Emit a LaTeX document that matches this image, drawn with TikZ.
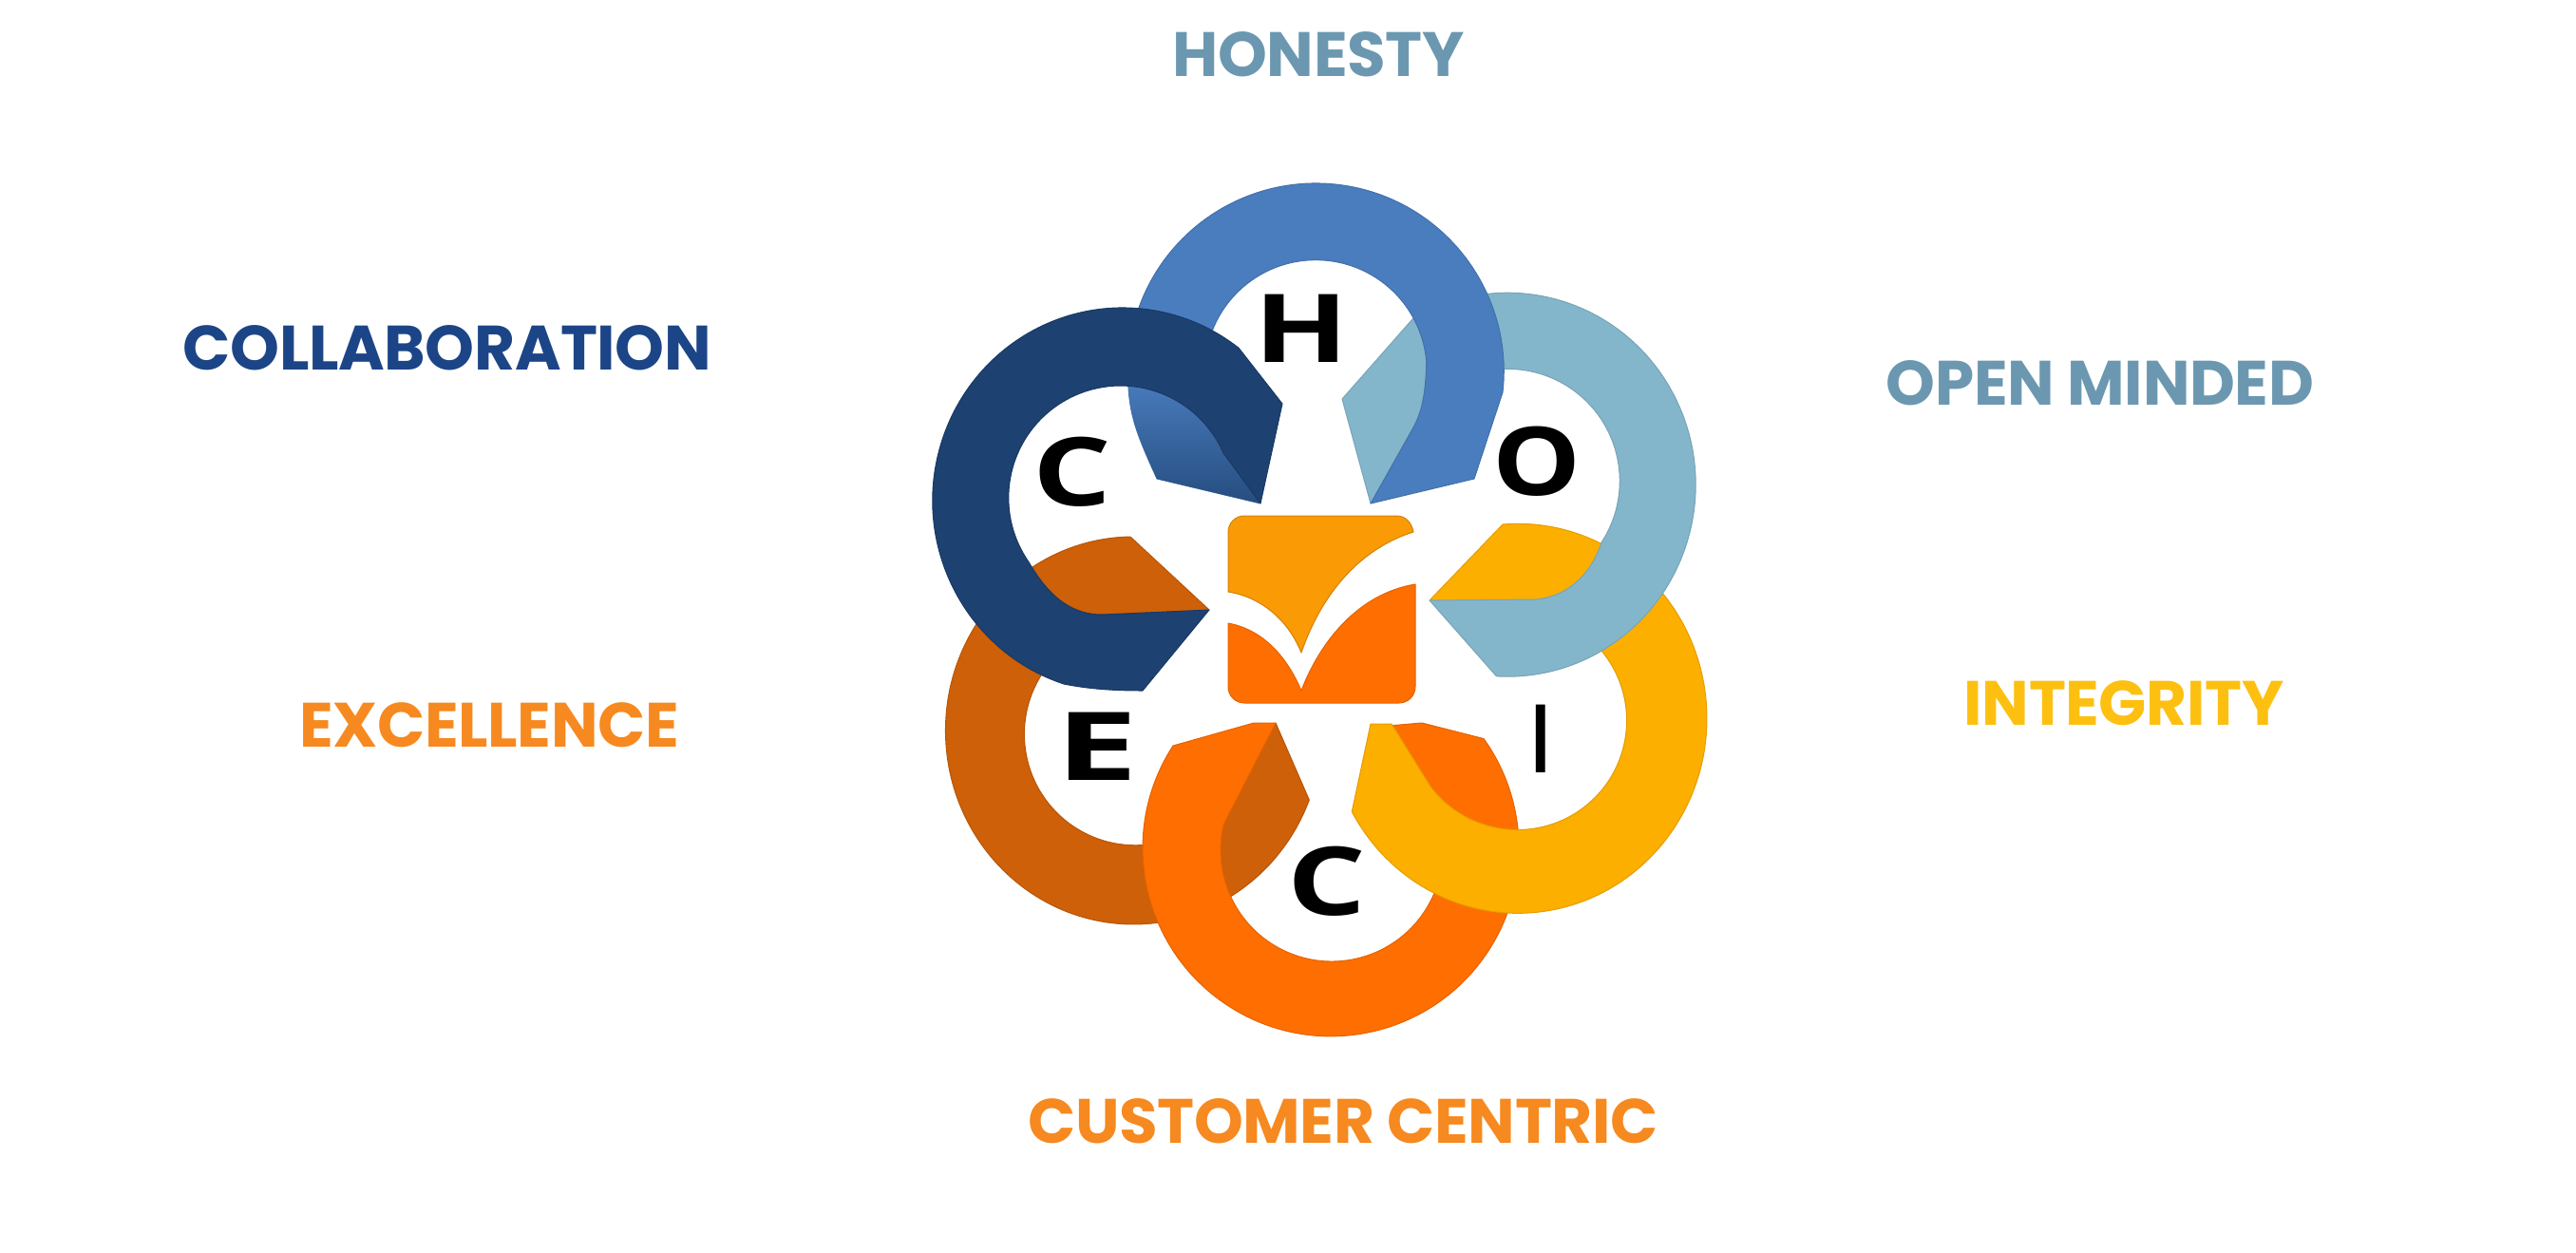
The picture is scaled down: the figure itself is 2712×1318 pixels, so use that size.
\documentclass[tikz,border=0pt]{standalone}
\usepackage{fontspec}
\usepackage{graphicx}
\usepackage{xcolor}
\usepackage{tikz}
\usetikzlibrary{positioning}
\newfontfamily\valuefont{Poppins}[LetterSpace=-0.6]
\newfontfamily\letterfont{Open Sans}
\definecolor{ringC}{HTML}{1D4170}
\definecolor{ringH}{HTML}{4A7DBE}
\definecolor{ringO}{HTML}{84B6CB}
\definecolor{ringI}{HTML}{FDAF00}
\definecolor{ringCc}{HTML}{FF6E00}
\definecolor{ringE}{HTML}{CD6008}
\definecolor{iconTop}{HTML}{FA9A05}
\definecolor{textC}{HTML}{1C4587}
\definecolor{textO}{HTML}{6B98B0}
\definecolor{textE}{HTML}{F6891F}
\definecolor{textI}{HTML}{FDC010}
\tikzset{
  valuelabel/.style={inner sep=0pt,font=\fontsize{66}{70}\selectfont\valuefont\bfseries},
  ringletter/.style={inner sep=0pt,text=black,font=\fontsize{100}{104}\selectfont\letterfont\bfseries},
  ringpart/.style={line join=round,line width=1pt}
}
\begin{document}
\begin{tikzpicture}[x=1pt,y=1pt,yscale=-1]
  \useasboundingbox (0,0) rectangle (2712,1318);
  % rings, lowest first
  \filldraw[ringpart,fill=ringE,draw=ringE!90!black] (1273,642) -- (1190,565) arc[start angle=-91,end angle=-339,x radius=198,y radius=204] -- (1343,761) -- (1285,848) arc[start angle=40,end angle=260,radius=117] -- cycle;
  \filldraw[ringpart,fill=ringCc,draw=ringCc!90!black] (1343,761) -- (1320,761) -- (1235,785) arc[start angle=-147,end angle=-395.6,radius=198] -- (1497,761) -- (1450,765) -- (1450,850) -- (1512,855) arc[start angle=-20,end angle=193.7,radius=117] -- cycle;
  \filldraw[ringpart,fill=ringI,draw=ringI!90!black] (1505,632) -- (1582,552) arc[start angle=-94.6,end angle=151.4,x radius=199,y radius=205] -- (1443,762) -- (1465,762) -- (1506,828) arc[start angle=142.8,end angle=-80,radius=115] -- cycle;
  \filldraw[ringpart,fill=ringO,draw=ringO!90!black] (1443,530) -- (1413,420) -- (1487,336) arc[start angle=-120.4,end angle=93.4,x radius=198,y radius=202] -- (1505,632) -- (1617,631) .. controls (1650,628) and (1675,605) .. (1686,571) arc[start angle=33.2,end angle=-110,radius=118] -- (1500,500) -- cycle;
  \filldraw[ringpart,fill=ringH,draw=ringH!90!black] (1552,504) -- (1582,413) arc[start angle=6.4,end angle=-185,radius=198] .. controls (1190,440) and (1198,460) .. (1218,504) -- (1327,530) -- (1270,411) arc[start angle=-190,end angle=-5,radius=117] .. controls (1501,418) and (1496,435) .. (1488,450) -- (1443,530) -- cycle;
  \shade[top color=ringH,bottom color=ringC!80!ringH] (1187,395) -- (1188,408) .. controls (1190,440) and (1198,460) .. (1218,504) -- (1327,530) -- (1270,411) -- (1200,395) -- cycle;
  \filldraw[ringpart,fill=ringC,draw=ringC!90!black] (1350,425) -- (1327,530) -- (1288,477) arc[start angle=-23.5,end angle=-215,radius=118] .. controls (1105,630) and (1130,647) .. (1160,647) -- (1273,642) -- (1203,727) .. controls (1170,727) and (1145,725) .. (1120,720) arc[start angle=108,end angle=307.7,x radius=200,y radius=203] -- cycle;
  % centre mark
  \filldraw[ringpart,fill=iconTop,draw=iconTop!85!black] (1293,623) -- (1293,560) arc[start angle=180,end angle=270,radius=17] -- (1470,543) .. controls (1480,543) and (1486,550) .. (1488,560) .. controls (1440,575) and (1395,615) .. (1370,687) .. controls (1355,650) and (1325,628) .. (1293,623) -- cycle;
  \filldraw[ringpart,fill=ringCc,draw=ringCc!90!black] (1293,656) .. controls (1325,662) and (1352,685) .. (1370,727) .. controls (1390,675) and (1430,625) .. (1490,615) -- (1490,723) arc[start angle=0,end angle=90,radius=17] -- (1310,740) arc[start angle=90,end angle=180,radius=17] -- cycle;
  % letters in the rings
  \foreach \name/\x/\y/\wid/\ltr in {ltrH/1370/346/1.3/H,ltrC/1129/497/1.3/C,ltrO/1618/486/1.17/O,ltrI/1622/778/0.65/I,ltrCc/1397/928/1.3/C,ltrE/1155/786/1.55/E}
    \node[ringletter] (\name) at (\x,\y) {\scalebox{\wid}[1]{\ltr}};
  % names of the values
  \foreach \name/\x/\y/\col/\txt in {honesty/1388/57/textO/HONESTY,collab/471/366/textC/COLLABORATION,openm/2211/403/textO/OPEN MINDED,integ/2236/740/textI/INTEGRITY,excel/515/763/textE/EXCELLENCE,custom/1414/1180/textE/CUSTOMER CENTRIC}
    \node[valuelabel,text=\col] (\name) at (\x,\y) {\txt};
\end{tikzpicture}
\end{document}
